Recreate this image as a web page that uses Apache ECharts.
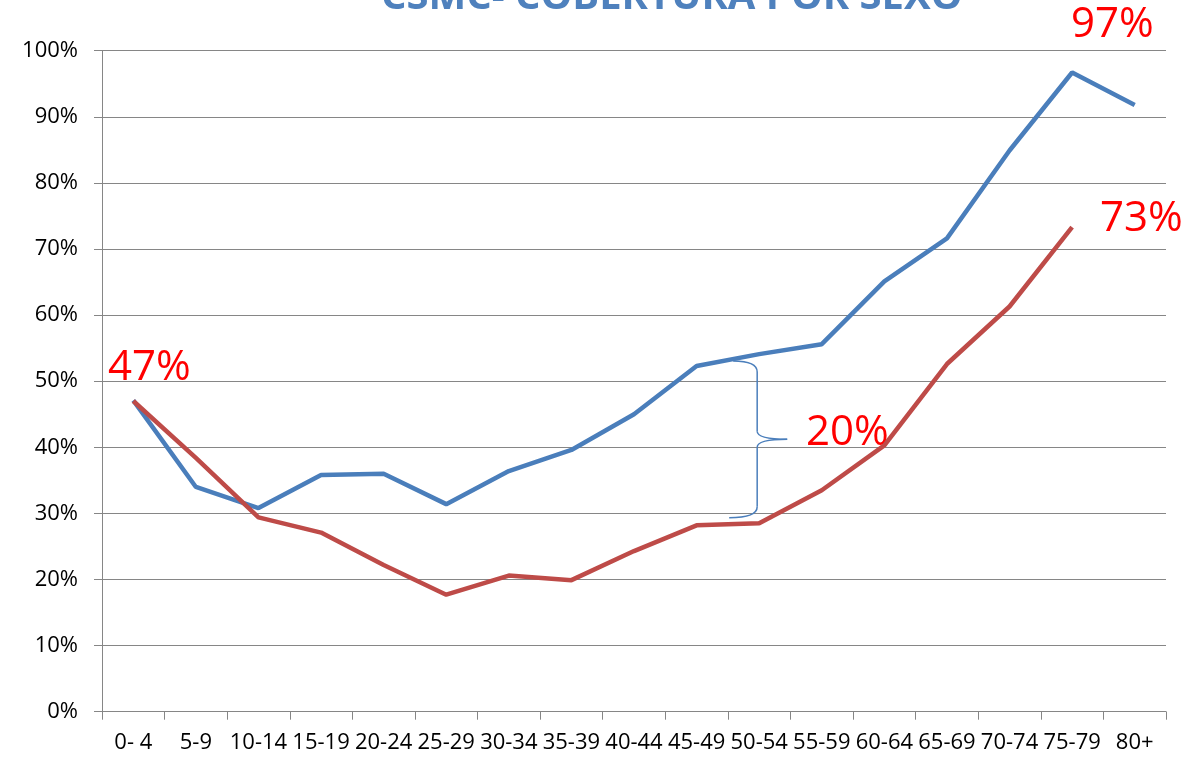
<!DOCTYPE html>
<html>
<head>
<meta charset="utf-8">
<script src="https://cdn.jsdelivr.net/npm/echarts@6/dist/echarts.min.js"></script>
<style>
  html, body { margin: 0; padding: 0; background: #fff; }
  #chart { width: 1192px; height: 761px; }
</style>
</head>
<body>
<div id="chart"></div>
<script>
const categories = ['0- 4', '5-9', '10-14', '15-19', '20-24', '25-29', '30-34', '35-39', '40-44',
  '45-49', '50-54', '55-59', '60-64', '65-69', '70-74', '75-79', '80+'];
const blueValues = [47.1, 34.0, 30.8, 35.8, 36.0, 31.4, 36.4, 39.6, 45.0, 52.3, 54.1, 55.6, 65.1, 71.6, 84.9, 96.7, 91.8];
const redValues = [47.0, 38.4, 29.4, 27.1, 22.2, 17.7, 20.6, 19.9, 24.3, 28.2, 28.5, 33.5, 40.3, 52.6, 61.3, 73.3, null];
const yTicks = [0, 10, 20, 30, 40, 50, 60, 70, 80, 90, 100];

const font = '"Open Sans", "Noto Sans", sans-serif';
const chart = echarts.init(document.getElementById('chart'));

const option = {
  backgroundColor: '#fff',
  animation: false,
  title: {
    text: 'CSMC- COBERTURA POR SEXO',
    left: 376,
    top: -27,
    textStyle: { color: '#4F81BD', fontSize: 40, fontWeight: 'bold', fontFamily: font }
  },
  grid: { left: 102, right: 26, top: 50.7, bottom: 49.3 },
  xAxis: {
    type: 'category',
    data: categories,
    boundaryGap: true,
    axisLine: { lineStyle: { color: '#868686', width: 1 } },
    axisTick: { show: true, length: 8, lineStyle: { color: '#868686' } },
    axisLabel: { interval: 0, color: '#000', fontSize: 22, fontFamily: font, margin: 20 }
  },
  yAxis: {
    type: 'value',
    min: yTicks[0],
    max: yTicks[yTicks.length - 1],
    interval: 10,
    axisLine: { show: true, lineStyle: { color: '#868686', width: 1 } },
    axisTick: { show: true, length: 8, lineStyle: { color: '#868686' } },
    axisLabel: { color: '#000', fontSize: 22, fontFamily: font, margin: 24, formatter: '{value}%' },
    splitLine: { lineStyle: { color: '#868686', width: 1 } }
  },
  series: [
    {
      name: 'blue',
      type: 'line',
      data: blueValues,
      symbol: 'none',
      lineStyle: { color: '#4A7EBB', width: 4.5 },
      itemStyle: { color: '#4A7EBB' }
    },
    {
      name: 'red',
      type: 'line',
      data: redValues,
      symbol: 'none',
      lineStyle: { color: '#BE4B48', width: 4.5 },
      itemStyle: { color: '#BE4B48' }
    }
  ]
};

chart.setOption(option);

// brace between the two lines around 50-54, plus red percentage notes
const braceTop = chart.convertToPixel({ gridIndex: 0 }, [10, 53.2]);
const braceBot = chart.convertToPixel({ gridIndex: 0 }, [10, 29.2]);
const bx = braceTop[0] - 2;
const ty = braceTop[1] + 4, by = braceBot[1] - 4, my = (ty + by) / 2;
const braceStyle = { stroke: '#4A7EBB', lineWidth: 1.5, fill: null };
const curve = (x1, y1, cx, cy, x2, y2) => ({
  type: 'bezierCurve',
  shape: { x1: x1, y1: y1, cpx1: cx, cpy1: cy, x2: x2, y2: y2 },
  style: braceStyle
});
const seg = (x1, y1, x2, y2) => ({ type: 'line', shape: { x1: x1, y1: y1, x2: x2, y2: y2 }, style: braceStyle });

const noteStyle = { fill: '#FF0000', fontSize: 42, fontFamily: font };
chart.setOption({
  graphic: [
    curve(bx - 24, ty - 3, bx, ty - 3, bx, ty + 8),
    seg(bx, ty + 8, bx, my - 8),
    curve(bx, my - 8, bx, my, bx + 30, my),
    curve(bx + 30, my, bx, my, bx, my + 8),
    seg(bx, my + 8, bx, by - 8),
    curve(bx, by - 8, bx, by + 3, bx - 28, by + 3),
    { type: 'text', left: 108, top: 347, style: Object.assign({ text: '47%' }, noteStyle) },
    { type: 'text', left: 1071, top: 4, style: Object.assign({ text: '97%' }, noteStyle) },
    { type: 'text', left: 1100, top: 198, style: Object.assign({ text: '73%' }, noteStyle) },
    { type: 'text', left: 806, top: 412, style: Object.assign({ text: '20%' }, noteStyle) }
  ]
});

window.addEventListener('resize', () => chart.resize());
</script>
</body>
</html>
